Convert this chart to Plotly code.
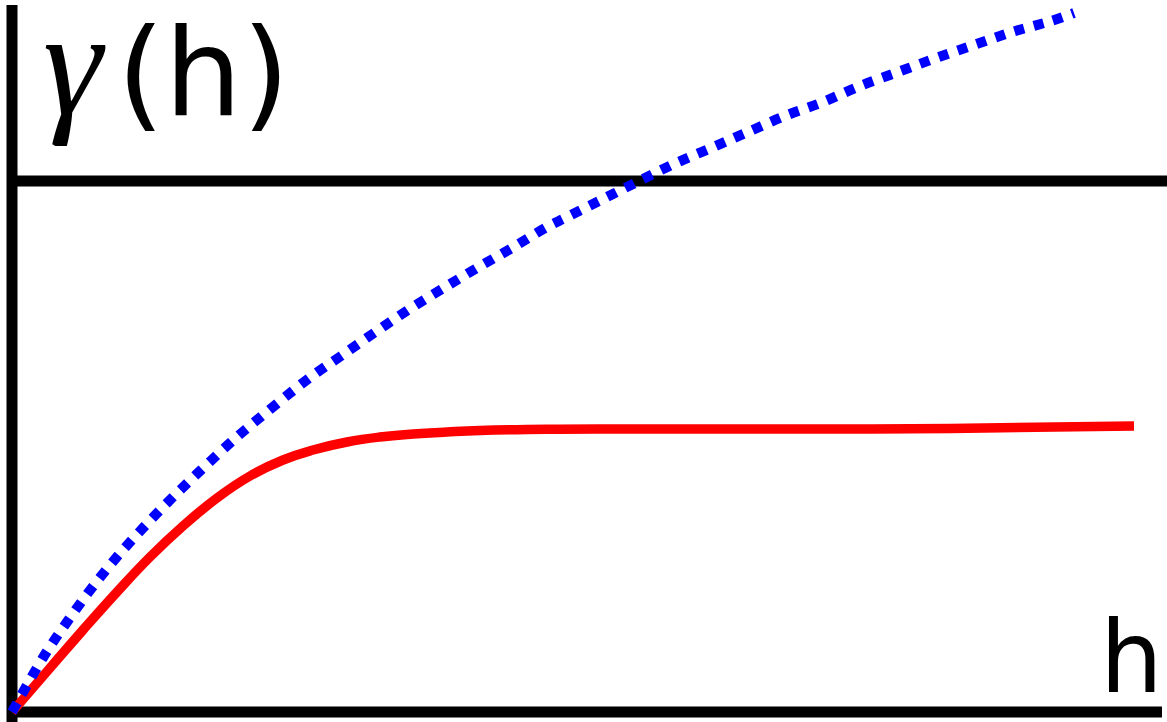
import plotly.graph_objects as go

# ---- data (h = lag distance, gamma = semivariance) ----
red_h = [0.0, 0.38, 0.71, 1.05, 1.38, 1.71, 2.05, 2.38, 2.71, 3.01, 3.35, 3.68,
         4.01, 4.35, 4.68, 5.35, 6.38, 7.88, 9.38, 11.22]
red_gamma = [0.0, 0.44, 0.82, 1.20, 1.55, 1.86, 2.14, 2.36, 2.52, 2.62, 2.70, 2.75,
             2.78, 2.80, 2.815, 2.828, 2.83, 2.83, 2.835, 2.86]

blue_h = [0.0, 0.32, 0.55, 0.79, 1.04, 1.31, 1.59, 1.88, 2.18, 2.33, 2.96, 3.29,
          3.62, 3.96, 4.30, 4.65, 5.00, 5.35, 5.53, 5.89, 6.25, 6.62, 6.99, 7.36,
          7.73, 8.11, 8.48, 8.86, 9.24, 9.62, 10.00, 10.39, 10.62]
blue_gamma = [0.0, 0.56, 0.90, 1.23, 1.54, 1.84, 2.13, 2.41, 2.69, 2.82, 3.33, 3.56,
              3.79, 4.02, 4.23, 4.44, 4.64, 4.85, 4.94, 5.12, 5.30, 5.48, 5.64, 5.80,
              5.96, 6.10, 6.26, 6.40, 6.54, 6.67, 6.80, 6.91, 6.99]

sill_line = 5.31          # upper horizontal reference line
y_label = "(h)"
y_symbol = "<i>γ</i>"
x_label = "h"

X_RANGE = [-0.12, 11.55]
Y_RANGE = [-0.10, 7.12]

fig = go.Figure()

fig.add_trace(go.Scatter(
    x=red_h, y=red_gamma, mode="lines",
    line=dict(color="#ff0000", width=9.5, shape="spline", smoothing=1.3),
    hoverinfo="skip", showlegend=False))

fig.add_trace(go.Scatter(
    x=blue_h, y=blue_gamma, mode="lines",
    line=dict(color="#0000ff", width=10, dash="10px,10px", shape="spline", smoothing=1.0),
    hoverinfo="skip", showlegend=False))

black = dict(color="black", width=11)
# vertical axis
fig.add_shape(type="line", xref="x", yref="paper", x0=0, x1=0, y0=0, y1=1 - 5 / 722,
              line=black, layer="below")
# horizontal axis
fig.add_shape(type="line", xref="x", yref="y", x0=-0.05, x1=11.50, y0=0, y1=0,
              line=black, layer="below")
# upper horizontal line
fig.add_shape(type="line", xref="x", yref="y", x0=0, x1=X_RANGE[1] + 0.1,
              y0=sill_line, y1=sill_line, line=black, layer="below")

fig.add_annotation(text=y_symbol, xref="paper", yref="paper",
                   x=41 / 1167, y=1 - 63 / 722, xanchor="left", yanchor="middle",
                   showarrow=False,
                   font=dict(family="Liberation Serif", size=150, color="black"))
fig.add_annotation(text=y_label, xref="paper", yref="paper",
                   x=115 / 1167, y=1 - 73 / 722, xanchor="left", yanchor="middle",
                   showarrow=False,
                   font=dict(family="DejaVu Sans", size=122, color="black"))
fig.add_annotation(text=x_label, xref="paper", yref="paper",
                   x=1165 / 1167, y=1 - 657 / 722, xanchor="right", yanchor="middle",
                   showarrow=False,
                   font=dict(family="DejaVu Sans", size=99, color="black"))

fig.update_xaxes(range=X_RANGE, visible=False, showgrid=False, zeroline=False)
fig.update_yaxes(range=Y_RANGE, visible=False, showgrid=False, zeroline=False)
fig.update_layout(width=1167, height=722, margin=dict(l=0, r=0, t=0, b=0),
                  paper_bgcolor="white", plot_bgcolor="white", showlegend=False)

fig.write_html("out.html", config={"displayModeBar": False, "staticPlot": True},
               post_script="document.body.style.margin='0';document.body.style.overflow='hidden';")
